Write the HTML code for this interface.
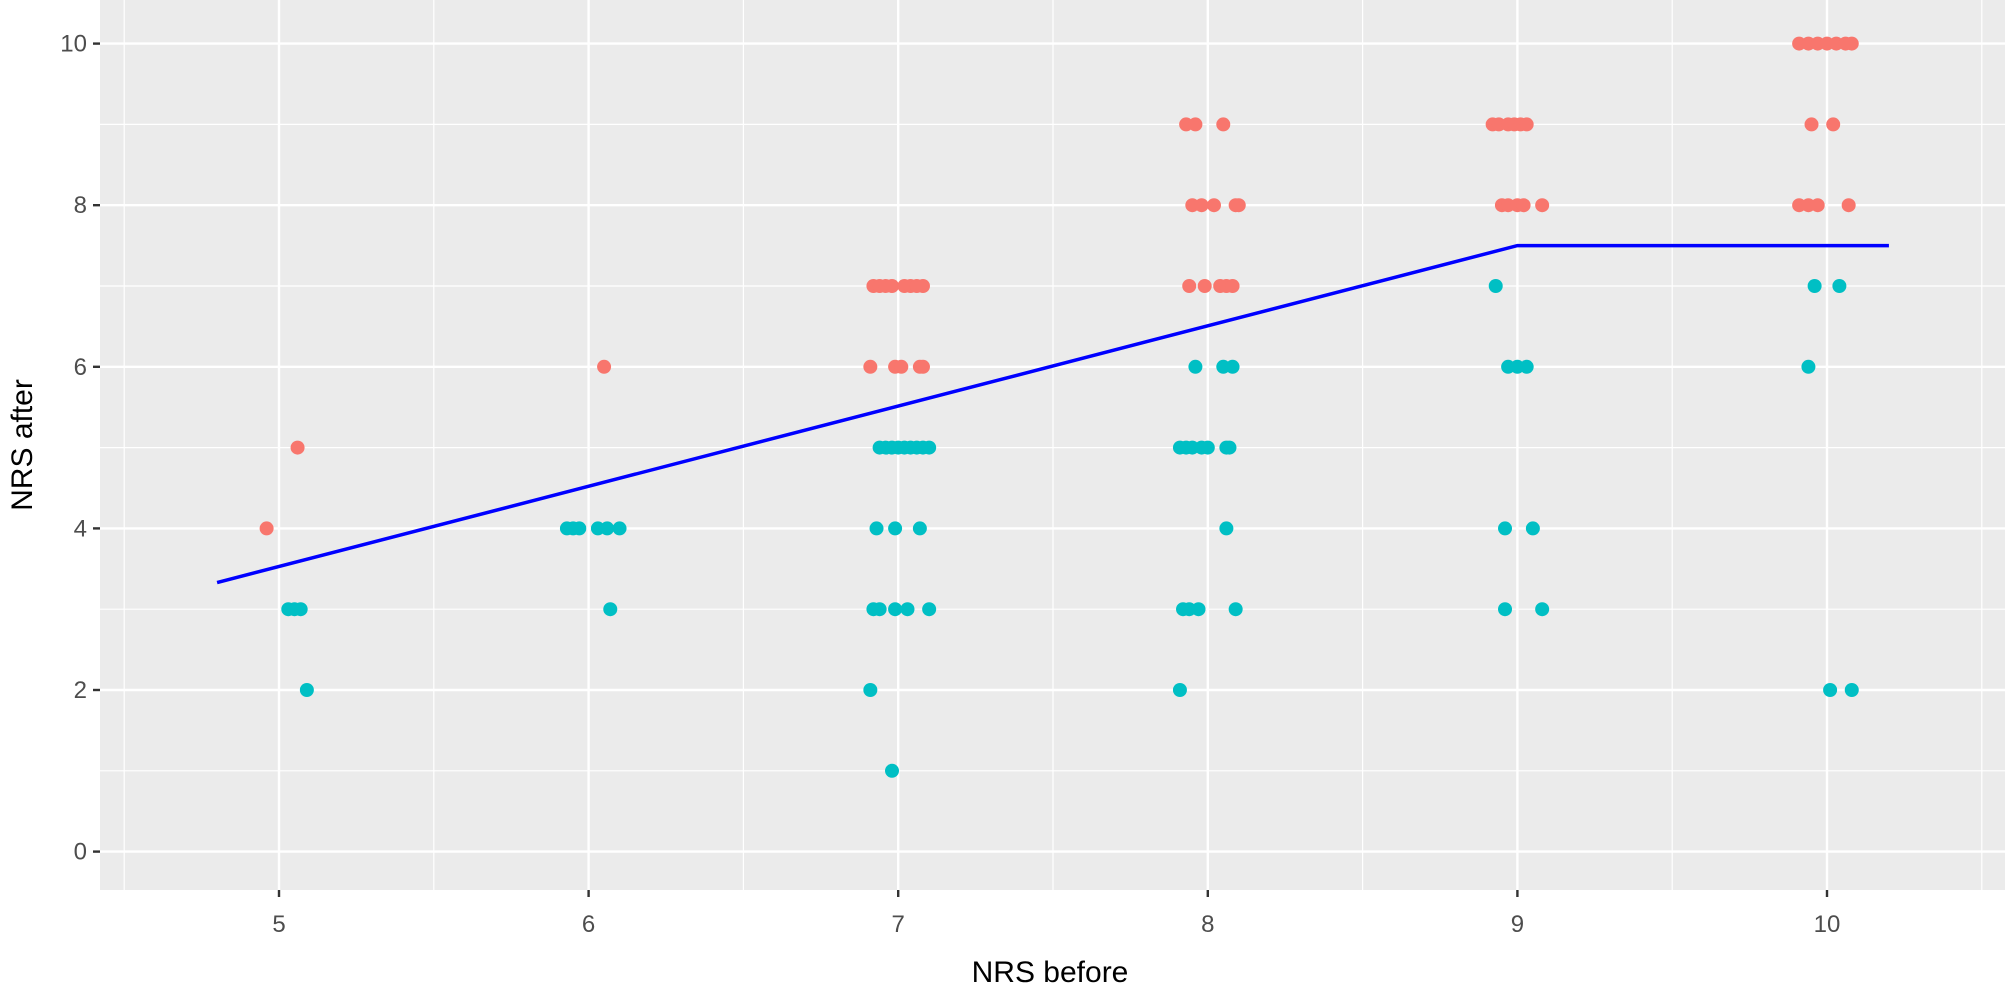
<!DOCTYPE html>
<html><head><meta charset="utf-8"><style>
html,body{margin:0;padding:0;background:#fff;}
svg{display:block;font-family:"Liberation Sans",Arial,sans-serif;}
</style></head><body>
<svg id="s" width="2008" height="992" viewBox="0 0 2008 992" xmlns="http://www.w3.org/2000/svg">
<rect x="100" y="0" width="1905" height="890" fill="#EBEBEB"/>
<g id="grid"></g>
<g id="pts"></g>
<polyline points="" id="ln" fill="none" stroke="#0000FF" stroke-width="3.5"/>
<g id="axes" fill="#4D4D4D" font-size="24"></g>
<text x="1050" y="982" text-anchor="middle" font-size="30" fill="#000">NRS before</text>
<text transform="translate(32,445) rotate(-90)" text-anchor="middle" font-size="30" fill="#000">NRS after</text>
</svg>
<script>
var X=function(v){return 279+(v-5)*309.6;};
var Y=function(v){return 851.6-v*80.8;};
var ns="http://www.w3.org/2000/svg";
function el(p,t,a,txt){var e=document.createElementNS(ns,t);for(var k in a)e.setAttribute(k,a[k]);if(txt!==undefined)e.textContent=txt;document.getElementById(p).appendChild(e);return e;}
for(var v=4.5;v<=10.5;v+=0.5){var x=X(v);el("grid","line",{x1:x,x2:x,y1:0,y2:890,stroke:"#fff","stroke-width":(v%1?1.2:2.4)});}
for(var v=0;v<=10.5;v+=1){var y=Y(v);el("grid","line",{x1:100,x2:2005,y1:y,y2:y,stroke:"#fff","stroke-width":(v%2?1.2:2.4)});}
for(var v=5;v<=10;v++){el("axes","line",{x1:X(v),x2:X(v),y1:890,y2:897,stroke:"#333","stroke-width":2.4});el("axes","text",{x:X(v),y:932,"text-anchor":"middle"},v);}
for(var v=0;v<=10;v+=2){el("axes","line",{x1:93,x2:100,y1:Y(v),y2:Y(v),stroke:"#333","stroke-width":2.4});el("axes","text",{x:87,y:Y(v)+8,"text-anchor":"end"},v);}
var R="#F8766D",T="#00BFC4";
var d=[
[R,4,[4.96]],[R,5,[5.06]],[T,3,[5.03,5.05,5.07]],[T,2,[5.09]],
[R,6,[6.05]],[T,4,[5.93,5.95,5.97,6.03,6.06,6.1]],[T,3,[6.07]],
[R,7,[6.92,6.94,6.96,6.98,7.02,7.04,7.06,7.08]],[R,6,[6.91,6.99,7.01,7.07,7.08]],
[T,5,[6.94,6.96,6.98,7.0,7.02,7.04,7.06,7.08,7.1]],[T,4,[6.93,6.99,7.07]],[T,3,[6.92,6.94,6.99,7.03,7.1]],[T,2,[6.91]],[T,1,[6.98]],
[R,9,[7.93,7.96,8.05]],[R,8,[7.95,7.98,8.02,8.09,8.1]],[R,7,[7.94,7.99,8.04,8.06,8.08]],
[T,6,[7.96,8.05,8.08]],[T,5,[7.91,7.93,7.95,7.98,8.0,8.06,8.07]],[T,4,[8.06]],[T,3,[7.92,7.94,7.97,8.09]],[T,2,[7.91]],
[R,9,[8.92,8.94,8.97,8.99,9.01,9.03]],[R,8,[8.95,8.97,9.0,9.02,9.08]],
[T,7,[8.93]],[T,6,[8.97,9.0,9.03]],[T,4,[8.96,9.05]],[T,3,[8.96,9.08]],
[R,10,[9.91,9.94,9.97,10.0,10.03,10.06,10.08]],[R,9,[9.95,10.02]],[R,8,[9.91,9.94,9.97,10.07]],
[T,7,[9.96,10.04]],[T,6,[9.94]],[T,2,[10.01,10.08]]];
d.forEach(function(g){g[2].forEach(function(x){el("pts","circle",{cx:X(x),cy:Y(g[1]),r:7,fill:g[0]});});});
document.getElementById("ln").setAttribute("points",X(4.8)+","+Y(3.33)+" "+X(9)+","+Y(7.5)+" "+X(10.2)+","+Y(7.5));
</script>
</body></html>
